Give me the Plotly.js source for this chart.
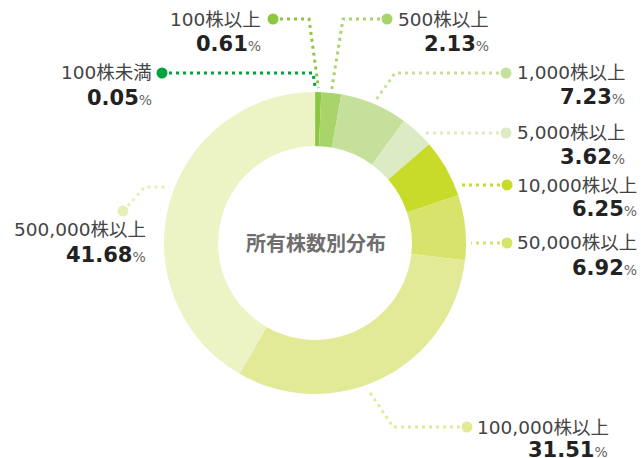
<!DOCTYPE html>
<html>
<head>
<meta charset="utf-8">
<script src="https://cdn.plot.ly/plotly-3.0.1.min.js"></script>
<style>html,body{margin:0;padding:0;background:#fff;}#chart{width:641px;height:458px;}</style>
</head>
<body>
<div id="chart"></div>
<script>
// ---- data ----
const categories = ["100株未満", "100株以上", "500株以上", "1,000株以上", "5,000株以上", "10,000株以上", "50,000株以上", "100,000株以上", "500,000株以上"];
const shares = [0.05, 0.61, 2.13, 7.23, 3.62, 6.25, 6.92, 31.51, 41.68];
const colors = ["#00a33c", "#8dc63f", "#a9d46c", "#c5e09b", "#dcebc3", "#c8db2b", "#d7e36a", "#e2ea98", "#ecf3c5"];
const centerTitle = "所有株数別分布";

// ---- layout (pixels) ----
const W = 641, H = 458;
const CX = 315, CY = 243, R = 151;
const px = x => x / W;
const py = y => 1 - y / H;

// leader line / label placement
const specs = [
  {side: "L", dot: [162, 73],  tx: 154, ly: 73,  vy: 98,  via: [[313, 73]],  end: {mode: "mid", gap: 4}},
  {side: "L", dot: [273, 19],  tx: 263, ly: 19,  vy: 44,  via: [[309, 19]],  end: {mode: "mid", gap: 4}},
  {side: "R", dot: [387, 19],  tx: 396, vx: 491, ly: 19,  vy: 44,  via: [[343, 19]],  end: {mode: "mid", gap: 4}},
  {side: "R", dot: [506, 73],  tx: 515, vx: 627, ly: 73,  vy: 97,  via: [[395, 73]],  end: {mode: "mid", gap: 4}},
  {side: "R", dot: [506, 133], tx: 515, vx: 627, ly: 133, vy: 157, via: [],          end: {mode: "edge", gap: 4}},
  {side: "R", dot: [507, 185], tx: 515, vx: 639, ly: 185, vy: 209, via: [],          end: {mode: "edge", gap: 5}},
  {side: "R", dot: [507, 243], tx: 515, vx: 639, ly: 243, vy: 268, via: [],          end: {mode: "edge", gap: 5}},
  {side: "R", dot: [467, 427], tx: 475, vx: 610, ly: 427, vy: 450, via: [[393, 427]], end: {mode: "angle", angle: 160, r: 157}},
  {side: "L", dot: [123, 211], tx: 148, ly: 230, vy: 255, via: [[145, 187]], end: {mode: "edge", gap: 6, y: 187, left: true}}
];

const total = shares.reduce((a, b) => a + b, 0);
let cum = 0;
const mids = shares.map(v => { const m = (cum + v / 2) / total * 360; cum += v; return m; });

function polar(deg, r) {
  const t = deg * Math.PI / 180;
  return [CX + r * Math.sin(t), CY - r * Math.cos(t)];
}

const shapes = [];
const annotations = [];
const labelFont = {family: "DejaVu Sans, Noto Sans CJK JP, sans-serif", size: 18.5, color: "#444"};
const valueFont = {family: "DejaVu Sans, Noto Sans CJK JP, sans-serif", size: 21, color: "#222"};

specs.forEach((s, i) => {
  let endPt;
  if (s.end.mode === "mid") endPt = polar(mids[i], R + s.end.gap);
  else if (s.end.mode === "angle") endPt = polar(s.end.angle, s.end.r);
  else {
    const yy = s.end.y !== undefined ? s.end.y : s.dot[1];
    const dx = Math.sqrt(R * R - (yy - CY) * (yy - CY));
    endPt = s.end.left ? [CX - dx - s.end.gap, yy] : [CX + dx + s.end.gap, yy];
  }
  const pts = [s.dot].concat(s.via).concat([endPt]);
  const path = pts.map((p, k) => (k ? "L" : "M") + px(p[0]).toFixed(5) + "," + py(p[1]).toFixed(5)).join(" ");
  const lc = colors[i] === "#ecf3c5" ? "#e6efb6" : colors[i];
  shapes.push({type: "path", xref: "paper", yref: "paper", path: path,
    line: {color: lc, width: 3, dash: "3px,4px"}, layer: "above"});
  const rr = 5.5;
  shapes.push({type: "circle", xref: "paper", yref: "paper",
    x0: px(s.dot[0] - rr), x1: px(s.dot[0] + rr), y0: py(s.dot[1] + rr), y1: py(s.dot[1] - rr),
    fillcolor: lc, line: {width: 0}, layer: "above"});

  const valText = "<b>" + shares[i].toFixed(2) + "</b><span style='font-size:14px;color:#666'>%</span>";
  if (s.side === "L") {
    annotations.push({xref: "paper", yref: "paper", x: px(s.tx), y: py(s.ly), xanchor: "right", yanchor: "middle",
      text: categories[i], showarrow: false, font: labelFont});
    annotations.push({xref: "paper", yref: "paper", x: px(s.tx), y: py(s.vy), xanchor: "right", yanchor: "middle",
      text: valText, showarrow: false, font: valueFont});
  } else {
    annotations.push({xref: "paper", yref: "paper", x: px(s.tx), y: py(s.ly), xanchor: "left", yanchor: "middle",
      text: categories[i], showarrow: false, font: labelFont});
    annotations.push({xref: "paper", yref: "paper", x: px(s.vx), y: py(s.vy), xanchor: "right", yanchor: "middle",
      text: valText, showarrow: false, font: valueFont});
  }
});

annotations.push({xref: "paper", yref: "paper", x: px(CX + 1), y: py(CY), xanchor: "center", yanchor: "middle",
  text: "<b>" + centerTitle + "</b>", showarrow: false,
  font: {family: "Noto Sans CJK JP, sans-serif", size: 20, color: "#6e6e6e"}});

const trace = {
  type: "pie",
  labels: categories,
  values: shares,
  sort: false,
  direction: "clockwise",
  rotation: 0,
  hole: 0.642,
  marker: {colors: colors, line: {width: 0}},
  textinfo: "none",
  hoverinfo: "label+value",
  showlegend: false,
  domain: {x: [px(CX - R), px(CX + R)], y: [py(CY + R), py(CY - R)]}
};

const layout = {
  width: W, height: H,
  margin: {l: 0, r: 0, t: 0, b: 0},
  paper_bgcolor: "#fff",
  showlegend: false,
  shapes: shapes,
  annotations: annotations
};

Plotly.newPlot("chart", [trace], layout, {displayModeBar: false, staticPlot: true});
</script>
</body>
</html>
